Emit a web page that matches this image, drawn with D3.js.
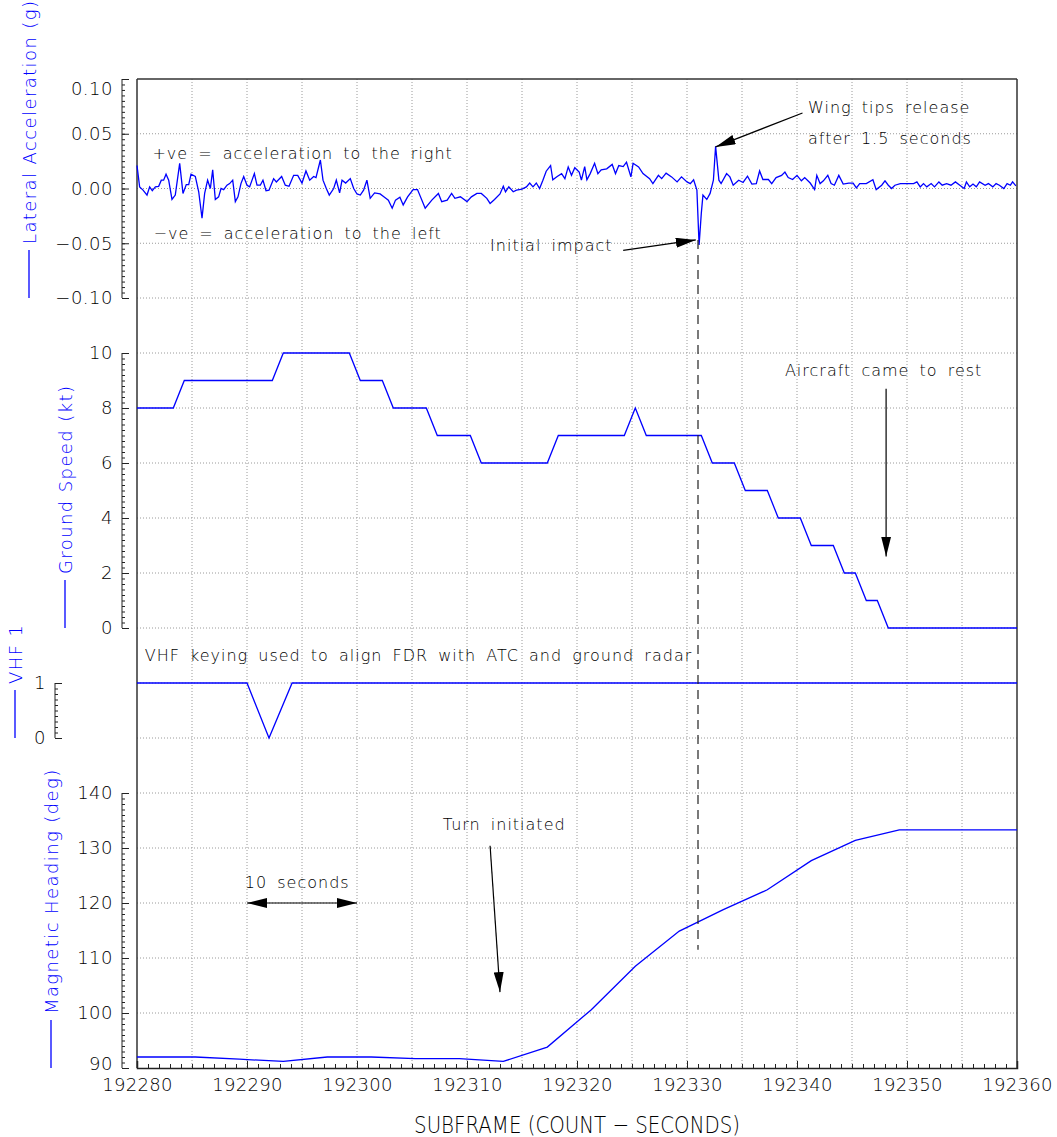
<!DOCTYPE html>
<html>
<head>
<meta charset="utf-8">
<script src="https://cdn.jsdelivr.net/npm/d3@7"></script>
<style>
  body { margin: 0; background: #fff; }
  svg text { font-family: "DejaVu Sans", sans-serif; font-weight: 300; }
  .grid line { stroke: #9a9a9a; stroke-dasharray: 1,2; stroke-width: 1; }
  .ax path, .ax line { stroke: #222; }
  .ax text { font-size: 18px; fill: #000; letter-spacing: 0.5px; }
  .note { font-size: 16px; fill: #000; letter-spacing: 1px; word-spacing: 4px; }
</style>
</head>
<body>
<div id="chart"></div>
<script>
// time offsets are seconds after subframe 192280
var t0 = 192280

// lateral acceleration (g)
var lateralAccel = [[0,0.021],[0.24,0.0015],[0.55,-0.0015],[0.91,-0.006],[1.15,0.0015],[1.39,-0.002],[1.67,0.0015],[1.97,0.002],[2.21,0.0076],[2.42,0.0076],[2.64,0.013],[2.88,0.0076],[3.18,-0.010],[3.48,-0.006],[3.88,0.023],[4.18,-0.0045],[4.48,0.0036],[4.70,0.0036],[4.91,0.013],[5.30,0.011],[5.61,-0.003],[5.91,-0.027],[6.15,-0.0045],[6.42,0.0076],[6.67,0],[6.88,0.017],[7.12,-0.010],[7.42,-0.0076],[7.64,0],[7.88,-0.001],[8.18,0.003],[8.42,0.0045],[8.70,0.0076],[8.94,-0.012],[9.18,-0.0076],[9.45,0.0045],[9.70,0.011],[10.0,0.003],[10.24,0.0015],[10.67,0.0136],[10.91,0.003],[11.21,0.003],[11.45,0.0076],[11.73,-0.002],[12.0,-0.0015],[12.42,0.009],[12.67,0.006],[13.15,0.011],[13.48,0.003],[13.82,0.002],[14.24,0.012],[14.61,0.012],[15.0,0.005],[15.36,0.016],[15.70,0.0076],[16.06,0.011],[16.27,0.010],[16.67,0.026],[16.91,0.0076],[17.21,0],[17.48,-0.006],[17.88,0],[18.12,0.0076],[18.42,-0.004],[18.64,0.0076],[18.97,0.005],[19.39,0.009],[19.70,0],[20.0,-0.005],
  [20.3,-0.006],[20.6,-0.0015],[20.9,0.0076],[21.2,-0.009],[21.6,-0.004],[22.1,-0.005],[22.5,-0.008],[22.85,-0.0106],[23.2,-0.018],[23.5,-0.0106],[23.9,-0.008],[24.2,-0.015],[24.6,-0.0076],[25.1,-0.001],[25.5,-0.001],[26.2,-0.018],
  [26.8,-0.0106],[27.4,-0.0045],[27.7,-0.012],[28.2,-0.0106],[28.6,-0.0045],[28.9,-0.009],[29.4,-0.0076],[30.0,-0.012],[30.4,-0.0076],[30.9,-0.0045],[31.3,-0.0045],[31.8,-0.009],[32.1,-0.0136],[32.5,-0.010],[33.0,-0.005],[33.3,0.002],[33.5,-0.003],[33.8,0.0015],[34.2,-0.003],[34.5,-0.0015],[35.0,-0.0006],[35.4,0.0015],[35.7,0.005],[36.0,0.0015],[36.3,0.005],[36.6,0],[36.9,0.0076],[37.2,0.0158],[37.6,0.021],[37.8,0.008],[38.2,0.011],[38.6,0.0136],[38.9,0.009],[39.2,0.0197],[39.5,0.012],[39.8,0.019],[40.2,0.015],[40.4,0.0076],[40.7,0.020],[40.9,0.008],[41.2,0.0136],[41.6,0.023],[41.9,0.0136],[42.2,0.017],[42.7,0.018],[43.2,0.022],[43.5,0.0136],[43.8,0.021],[44.2,0.020],[44.5,0.024],[44.9,0.0106],[45.1,0.023],[45.6,0.0197],[46.0,0.0136],[46.6,0.009],[46.9,0.0045],[47.4,0.012],[47.7,0.009],[48.1,0.014],[48.6,0.0106],[49.1,0.006],[49.5,0.0106],[50.0,0.006],[50.3,0.0045],[50.6,0.008],[50.9,-0.0015],[51.1,-0.0515],[51.3,-0.0227],[51.45,-0.006],[51.8,-0.010],[52.1,-0.0045],[52.4,0.0076],[52.6,0.0385],[52.9,0.0076],[53.1,0.0045],[53.6,0.0136],[53.9,0.0106],[54.2,0.003],[54.7,0.0076],[55.1,0.0055],[55.5,0.0112],[55.9,0.004],[56.3,0.0045],[56.6,0.016],[56.9,0.0082],[57.4,0.0082],[57.7,0.0045],[58.1,0.0100],[58.6,0.012],[58.9,0.015],[59.2,0.010],[59.6,0.0082],[60.0,0.012],[60.4,0.007],[60.7,0.010],[61.2,0.005],[61.6,-0.001],[61.8,0.012],[62.1,0.0045],[62.4,0.007],[62.8,0.012],[63.1,0.0045],[63.4,0.003],[63.8,0.012],[64.2,0.004],[64.7,0.005],[65.1,0.005],[65.4,0.0006],[65.7,0.0045],[66.3,0.0045],[66.9,0.008],[67.2,-0.001],[67.7,0.003],[68.0,0.007],[68.3,0.003],[68.6,0],[68.9,0.003],[69.4,0.0045],[70.6,0.0045],[70.9,0.006],[71.2,0.0015],[71.5,0.0045],[71.8,0.0015],[72.2,0.0045],[72.5,0.0015],[72.9,0.006],[73.2,0.003],[73.6,0.0045],[74.0,0.003],[74.4,0.006],[74.8,0.003],[75.2,0],[75.4,0.006],[75.7,0.0015],[76.0,0.004],[76.3,0.0015],[76.6,0.006],[77.1,0.003],[77.4,0.0045],[77.8,0.0015],[78.1,0.0045],[78.4,0.003],[78.8,0],[79.1,0.0045],[79.4,0.003],[79.6,0.006],[79.9,0.0024]]

// ground speed (kt)
var groundSpeed = [[0,8],[3.3,8],[4.3,9],[12.3,9],[13.3,10],[19.3,10],[20.3,9],[22.3,9],[23.3,8],[26.3,8],[27.3,7],[30.3,7],[31.3,6],[37.3,6],[38.3,7],[44.3,7],[45.3,8],[46.3,7],[51.3,7],[52.3,6],[54.3,6],[55.3,5],[57.3,5],[58.3,4],[60.3,4],[61.3,3],[63.3,3],[64.3,2],[65.3,2],[66.3,1],[67.3,1],[68.3,0],[80,0]]

// VHF 1 keying
var vhf1 = [[0,1],[10,1],[12,0],[14.1,1],[80,1]]

// magnetic heading (deg)
var heading = [[0,92.0],[5.3,92.0],[9.3,91.6],[13.3,91.2],[17.3,92.0],[21.3,92.0],[25.3,91.7],[29.3,91.7],[33.3,91.2],[37.3,93.8],[41.3,100.6],[45.3,108.5],[49.3,114.9],[53.3,118.8],[57.3,122.4],[61.3,127.7],[65.3,131.4],[69.3,133.3],[80,133.3]]

var xTicks = [192280,192290,192300,192310,192320,192330,192340,192350,192360]
var latTicks = [-0.10,-0.05,0.00,0.05,0.10]
var gsTicks = [0,2,4,6,8,10]
var vhfTicks = [0,1]
var hdgTicks = [90,100,110,120,130,140]

var W = 1057, H = 1137
var svg = d3.select("#chart").append("svg").attr("width", W).attr("height", H)
svg.append("rect").attr("width", W).attr("height", H).attr("fill", "#fff")

var x = d3.scaleLinear().domain([192280,192360]).range([137,1017])
var yLat = d3.scaleLinear().domain([-0.10,0.10]).range([298,79])
var yGs = d3.scaleLinear().domain([0,10]).range([628,353])
var yVhf = d3.scaleLinear().domain([0,1]).range([738,683])
var yHdg = d3.scaleLinear().domain([90,140]).range([1068,793])

var plotTop = yLat(0.10), plotBottom = yHdg(90), plotLeft = x(192280), plotRight = x(192360)

// dotted grid
var grid = svg.append("g").attr("class", "grid")
var vx = d3.range(192285, 192360, 5)
grid.selectAll(".gv").data(vx).enter().append("line")
  .attr("x1", d => x(d)).attr("x2", d => x(d)).attr("y1", plotTop).attr("y2", plotBottom)
var hy = [].concat(latTicks.map(yLat), gsTicks.map(yGs), vhfTicks.map(yVhf), hdgTicks.map(yHdg))
  .filter(v => v > plotTop + 1 && v < plotBottom - 1)
grid.selectAll(".gh").data(hy).enter().append("line")
  .attr("x1", plotLeft).attr("x2", plotRight).attr("y1", d => d).attr("y2", d => d)

// frame
var frame = svg.append("g").attr("stroke", "#333").attr("stroke-width", 1.5)
frame.append("line").attr("x1", plotLeft).attr("x2", plotLeft).attr("y1", plotTop).attr("y2", plotBottom)
frame.append("line").attr("x1", plotRight).attr("x2", plotRight).attr("y1", plotTop).attr("y2", plotBottom)
frame.append("line").attr("x1", plotLeft).attr("x2", plotRight).attr("y1", plotTop).attr("y2", plotTop)

// left axes, ticks pointing right, with 10 minor ticks per major
function yAxis(scale, ticks, ax, fmt, step) {
  var g = svg.append("g").attr("class", "ax").attr("transform", "translate(" + ax + ",0)")
  var dom = scale.domain()
  var minor = d3.range(dom[0], dom[1] + step / 2, step)
  g.append("g").call(d3.axisLeft(scale).tickValues(minor).tickSize(-3).tickFormat(""))
    .call(s => s.select(".domain").remove())
  g.append("g").call(d3.axisLeft(scale).tickValues(ticks).tickSize(-7).tickPadding(9).tickFormat(fmt))
    .call(s => s.select(".domain").attr("d", "M0," + scale(dom[0]) + "V" + scale(dom[1])))
  return g
}
var latAx = yAxis(yLat, latTicks, 122, d => d3.format(".2f")(d).replace("-", "\u2212"), 0.005)
latAx.selectAll("text").filter(d => d === 0.10).attr("dy", "0.85em")
yAxis(yGs, gsTicks, 122, d3.format("d"), 0.2)
yAxis(yVhf, vhfTicks, 55, d3.format("d"), 0.1)
var hdgAx = yAxis(yHdg, hdgTicks, 122, d3.format("d"), 1)
hdgAx.selectAll("text").filter(d => d === 90).attr("dy", "0.1em")

// bottom axis
var xg = svg.append("g").attr("class", "ax").attr("transform", "translate(0," + plotBottom + ")")
xg.append("g").call(d3.axisBottom(x).tickValues(d3.range(192280, 192361, 1)).tickSize(-4).tickFormat(""))
  .call(s => s.select(".domain").remove())
xg.append("g").call(d3.axisBottom(x).tickValues(xTicks).tickSize(-7).tickPadding(10).tickFormat(d3.format("d")))
  .call(s => s.select(".domain").attr("stroke-width", 1.5))
xg.selectAll("text").attr("font-size", 22).attr("font-stretch", "condensed").style("letter-spacing", "0.3px")

svg.append("text")
  .attr("transform", "translate(" + (plotLeft + plotRight) / 2 + "," + (H - 4) + ") scale(0.86,1)")
  .attr("text-anchor", "middle").attr("font-size", 23).attr("font-stretch", "condensed")
  .attr("fill", "#000")
  .text("SUBFRAME (COUNT \u2212 SECONDS)")

// data lines
function draw(data, ys) {
  svg.append("path").datum(data)
    .attr("fill", "none").attr("stroke", "#0000ff").attr("stroke-width", 1.3)
    .attr("d", d3.line().x(d => x(t0 + d[0])).y(d => ys(d[1])))
}
draw(lateralAccel, yLat)
draw(groundSpeed, yGs)
draw(vhf1, yVhf)
draw(heading, yHdg)

// y titles: blue line + rotated text
function yTitle(cx, y0, txt) {
  svg.append("line").attr("x1", cx).attr("x2", cx).attr("y1", y0).attr("y2", y0 - 48)
    .attr("stroke", "#0000ff").attr("stroke-width", 1.3)
  svg.append("text").attr("transform", "translate(" + (cx + 7) + "," + (y0 - 54) + ") rotate(-90)")
    .attr("fill", "#0000ff").attr("font-size", 18).style("letter-spacing", "1.4px").text(txt)
}
yTitle(29, yLat(-0.10), "Lateral Acceleration (g)")
yTitle(65, yGs(0), "Ground Speed (kt)")
yTitle(15, yVhf(0), "VHF 1")
yTitle(51, yHdg(90), "Magnetic Heading (deg)")

// arrow heads
var defs = svg.append("defs")
defs.append("marker").attr("id", "ah").attr("viewBox", "0 0 20 10").attr("refX", 20).attr("refY", 5)
  .attr("markerWidth", 20).attr("markerHeight", 10).attr("markerUnits", "userSpaceOnUse")
  .attr("orient", "auto-start-reverse")
  .append("path").attr("d", "M0,0L20,5L0,10z").attr("fill", "#000")

function note(tx, ty, txt) {
  svg.append("text").attr("class", "note").attr("x", tx).attr("y", ty).text(txt)
}
function arrow(x1, y1, x2, y2, both) {
  var l = svg.append("line").attr("x1", x1).attr("y1", y1).attr("x2", x2).attr("y2", y2)
    .attr("stroke", "#000").attr("stroke-width", 1.2).attr("marker-end", "url(#ah)")
  if (both) l.attr("marker-start", "url(#ah)")
}

note(x(192281.4), yLat(0.027), "+ve = acceleration to the right")
note(x(192281.5), yLat(-0.0465), "\u2212ve = acceleration to the left")
note(x(192312.1), yLat(-0.0575), "Initial impact")
arrow(x(192324.2), yLat(-0.0565), x(192330.8), yLat(-0.047))
note(x(192341.0), yLat(0.069), "Wing tips release")
note(x(192341.0), yLat(0.041), "after 1.5 seconds")
arrow(x(192340.5), yLat(0.069), x(192332.6), yLat(0.038))
note(x(192338.9), yGs(9.15), "Aircraft came to rest")
arrow(x(192348.1), yGs(8.7), x(192348.1), yGs(2.6))
note(x(192280.7), yVhf(1.4), "VHF keying used to align FDR with ATC and ground radar")
note(x(192307.8), yHdg(133.3), "Turn initiated")
arrow(x(192312.1), yHdg(130.4), x(192313.0), yHdg(103.8))
note(x(192289.8), yHdg(122.7), "10 seconds")
arrow(x(192290), yHdg(120), x(192300), yHdg(120), true)

// impact marker
svg.append("line").attr("x1", x(192331)).attr("x2", x(192331))
  .attr("y1", yLat(-0.047)).attr("y2", yHdg(111.5))
  .attr("stroke", "#222").attr("stroke-width", 1.2).attr("stroke-dasharray", "9,6")
</script>
</body>
</html>
